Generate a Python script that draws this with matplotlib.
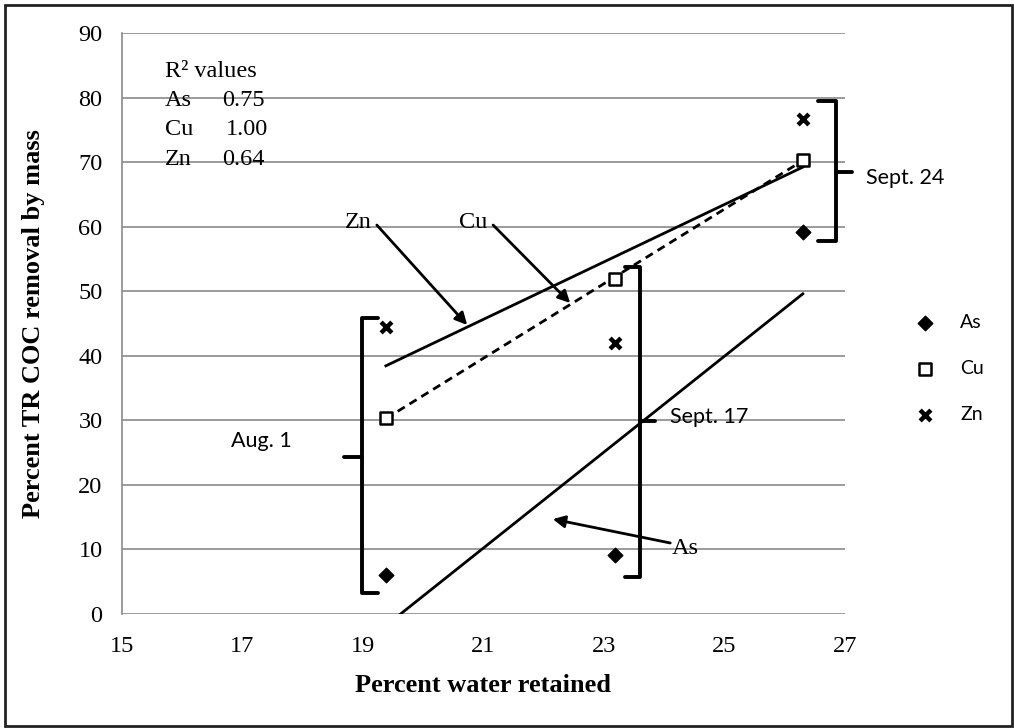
import matplotlib
matplotlib.use("Agg")
import matplotlib.pyplot as plt
import numpy as np
from matplotlib.patches import Rectangle

# sampling dates: percent water retained
water = [19.38, 23.18, 26.30]
dates = ["Aug. 1", "Sept. 17", "Sept. 24"]

# percent TR COC removal by mass
as_removal = [6.0, 9.1, 59.1]
cu_removal = [30.4, 51.9, 70.4]
zn_removal = [44.5, 41.9, 76.6]

r2_metals = ["As", "Cu", "Zn"]
r2_values = ["0.75", "1.00", "0.64"]

SERIF = "Liberation Serif"
SANS = "Lato"
FS = 17.5

fig = plt.figure(figsize=(10.14, 7.28), dpi=100)
ax = fig.add_axes([0.1203, 0.1566, 0.7130, 0.7981])
ax.set_xlim(15, 27)
ax.set_ylim(0, 90)
ax.set_xticks(np.arange(15, 28, 2))
ax.set_yticks(np.arange(0, 91, 10))
ax.yaxis.grid(True, color="#8a8a8a", lw=1.2)
ax.set_axisbelow(True)
for side in ["top", "right", "bottom"]:
    ax.spines[side].set_visible(False)
ax.spines["left"].set_color("#8a8a8a")
ax.spines["left"].set_linewidth(1.2)
ax.tick_params(axis="y", length=0, pad=14)
ax.tick_params(axis="x", length=0, pad=16)
for lab in ax.get_xticklabels() + ax.get_yticklabels():
    lab.set_fontfamily(SERIF)
    lab.set_fontsize(FS)
ax.set_xlabel("Percent water retained", fontfamily=SERIF, fontsize=19,
              fontweight="bold", labelpad=12)
ax.set_ylabel("Percent TR COC removal by mass", fontfamily=SERIF, fontsize=19,
              fontweight="bold", labelpad=24)

# linear trend lines over the sampled range
xs = np.array(water)
for vals, ls in [(as_removal, "-"), (zn_removal, "-"), (cu_removal, (0, (3, 2)))]:
    k, b = np.polyfit(xs, vals, 1)
    ax.plot([xs[0], xs[-1]], [k * xs[0] + b, k * xs[-1] + b], color="black",
            lw=2, ls=ls, zorder=3)

ax.scatter(water, as_removal, marker="D", s=55, color="black", zorder=4, label="As")
ax.scatter(water, cu_removal, marker="s", s=65, facecolor="white",
           edgecolor="black", lw=1.8, zorder=4, label="Cu")
ax.scatter(water, zn_removal, marker="x", s=60, color="black", lw=3.2, zorder=4,
           label="Zn")

ax.legend(loc="upper left", bbox_to_anchor=(0.876, 0.593),
          bbox_transform=fig.transFigure, frameon=False,
          prop={"family": SANS, "size": 14}, labelspacing=1.5,
          handletextpad=0.8, scatterpoints=1)

# R-squared block
ax.text(15.71, 84.0, "R\u00b2 values", fontfamily=SERIF, fontsize=FS, va="center")
for i, (m, v) in enumerate(zip(r2_metals, r2_values)):
    y = 79.6 - i * 4.6
    ax.text(15.71, y, m, fontfamily=SERIF, fontsize=FS, va="center")
    ax.text(16.66 if v != "1.00" else 16.72, y, v, fontfamily=SERIF,
            fontsize=FS, va="center")

# brackets grouping each sampling date
bk = dict(color="black", lw=2.8, clip_on=False, solid_capstyle="round",
          solid_joinstyle="round")


def bracket(x, y0, y1, ym, hook, tick):
    ax.plot([x + hook, x, x, x + hook], [y1, y1, y0, y0], **bk)
    ax.plot([x, x + tick], [ym, ym], **bk)


bracket(18.98, 3.3, 45.9, 24.3, 0.27, -0.30)
bracket(23.60, 5.7, 53.8, 29.9, -0.25, 0.25)
bracket(26.85, 57.7, 79.4, 68.4, -0.30, 0.27)

ax.text(17.32, 26.8, dates[0], fontfamily=SANS, fontsize=15.5, ha="center", va="center")
ax.text(24.10, 30.5, dates[1], fontfamily=SANS, fontsize=15.5, va="center")
ax.text(27.35, 67.5, dates[2], fontfamily=SANS, fontsize=15.5, va="center",
        clip_on=False)

# arrows pointing at trend lines
arrow = dict(arrowstyle="-|>", color="black", lw=2, mutation_scale=18,
             shrinkA=0, shrinkB=0)
ax.annotate("", xy=(20.73, 44.76), xytext=(19.23, 60.25), arrowprops=arrow)
ax.annotate("", xy=(22.44, 48.17), xytext=(21.16, 60.25), arrowprops=arrow)
ax.annotate("", xy=(22.15, 14.7), xytext=(24.10, 11.0), arrowprops=arrow)
ax.text(19.15, 60.7, "Zn", fontfamily=SERIF, fontsize=FS, ha="right", va="center")
ax.text(21.06, 60.7, "Cu", fontfamily=SERIF, fontsize=FS, ha="right", va="center")
ax.text(24.13, 10.2, "As", fontfamily=SERIF, fontsize=FS, ha="left", va="center")

# outer frame
fig.patches.append(Rectangle((5 / 1014, 2 / 728), 1007 / 1014, 721 / 728,
                             transform=fig.transFigure, fill=False,
                             edgecolor="#222222", lw=2))

fig.savefig("out.png", dpi=100)
